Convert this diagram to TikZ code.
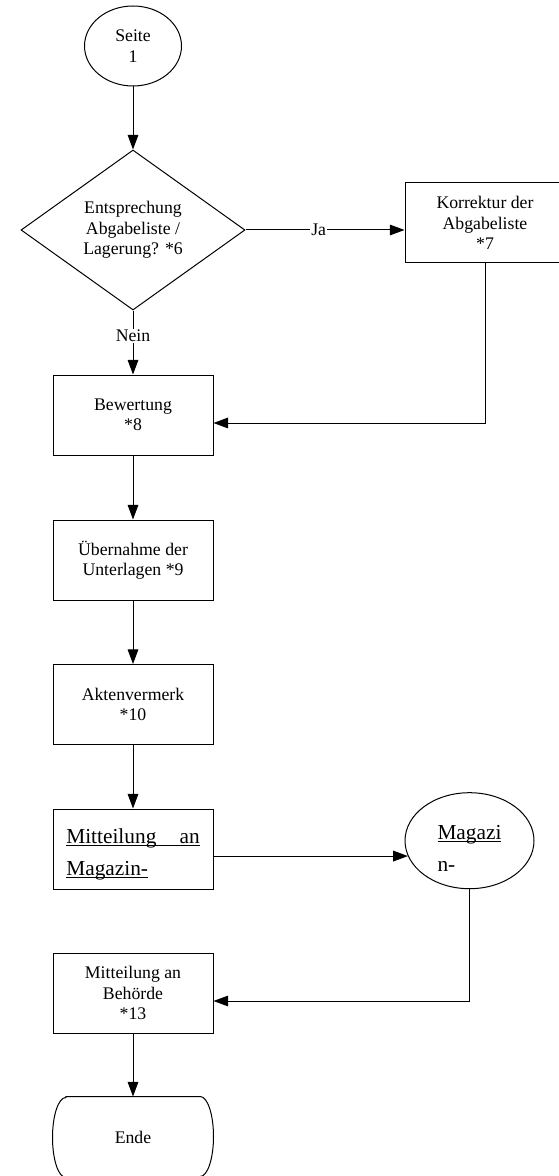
\documentclass[tikz,border=0pt]{standalone}
\usepackage{fontspec}
\setmainfont{Liberation Serif}
\usetikzlibrary{shapes.geometric,arrows.meta}
\newcommand{\ulin}[1]{\underline{\raisebox{0pt}[\height][0pt]{#1}}}

\begin{document}
\begin{tikzpicture}[
    x=0.75pt, y=-0.75pt,
    line width=0.75pt,
    font=\fontsize{13.3}{15.4}\selectfont,
    box/.style={draw,rectangle,align=center,minimum width=120pt,minimum height=60pt,inner sep=2pt},
    decision/.style={draw,diamond,align=center,minimum width=168pt,minimum height=120pt,inner sep=0pt},
    oval/.style={draw,ellipse,align=center,inner sep=0pt},
    lbl/.style={fill=white,inner sep=1pt},
    big/.style={font=\fontsize{16}{24}\selectfont},
    arr/.style={-{Triangle[length=11pt,width=8pt]}}
]
\useasboundingbox (0,0) rectangle (559,1176);
\node[oval,minimum width=72.75pt,minimum height=60pt] (seite) at (133,46) {Seite\\1};
\node[decision] (dec) at (133,230) {Entsprechung\\Abgabeliste /\\Lagerung? *6};
\node[box] (korr) at (485,223) {Korrektur der\\Abgabeliste\\*7};
\node[box] (bew) at (133,415) {Bewertung\\*8};
\node[box] (ueb) at (133,560) {Übernahme der\\Unterlagen *9};
\node[box] (akten) at (133,704.5) {Aktenvermerk\\*10};
\node[box,big,align=left] (mitmag) at (133,849) {\rule{0pt}{17.5pt}\ulin{\makebox[100pt][s]{Mitteilung\hfill an}}\\\ulin{Magazin-}};
\node[oval,big,align=left,minimum width=96.75pt,minimum height=72pt] (mag) at (469.5,840.7) {\rule{0pt}{22pt}\ulin{Magazi}\\n-};
\node[box] (beh) at (133,993) {Mitteilung an\\Behörde\\*13};
\node[minimum width=120pt,minimum height=60pt] (ende) at (133,1137) {Ende};
\draw ([xshift=10pt]ende.north west) -- ([xshift=-10pt]ende.north east)
    arc[start angle=90,end angle=-90,x radius=10pt,y radius=30pt]
    -- ([xshift=10pt]ende.south west)
    arc[start angle=270,end angle=90,x radius=10pt,y radius=30pt] -- cycle;
\draw[arr] (seite) -- (dec);
\draw[arr] (dec.east) -- node[lbl,pos=0.46]{Ja} (dec.east -| korr.west);
\draw[arr] (dec) -- node[lbl,pos=0.4]{Nein} (bew);
\draw[arr] (korr.south) |- ([yshift=-6pt]bew.east);
\draw[arr] (bew) -- (ueb);
\draw[arr] (ueb) -- (akten);
\draw[arr] (akten) -- (mitmag);
\draw[arr] (mitmag.east |- mag.194) -- (mag.194);
\draw[arr] (mag.south) |- ([yshift=-6pt]beh.east);
\draw[arr] (beh) -- (ende);
\end{tikzpicture}
\end{document}
